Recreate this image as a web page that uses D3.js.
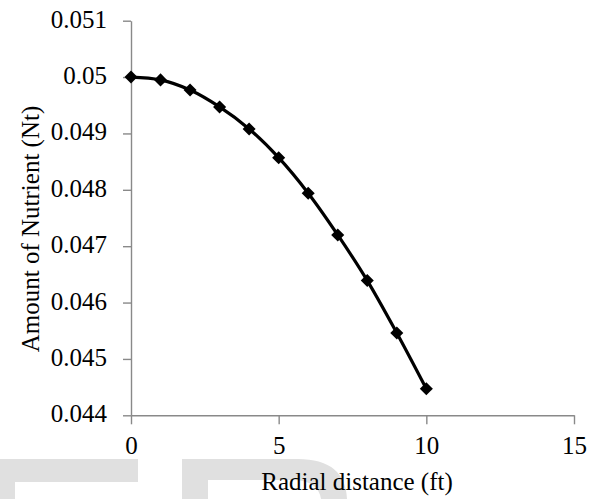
<html>
<head>
<title>Amount of Nutrient</title>
<script src="https://cdnjs.cloudflare.com/ajax/libs/d3/7.8.5/d3.min.js"></script>
<style>
  body { margin: 0; background: #fff; }
  svg text { font-family: "Liberation Serif", "Times New Roman", serif; fill: #000; }
</style>
</head>
<body>
<svg id="chart" width="595" height="499"></svg>
<script>
// data
var radial = [0, 1, 2, 3, 4, 5, 6, 7, 8, 9, 10];
var nutrient = [0.05, 0.04995, 0.04977, 0.04947, 0.04908, 0.04857, 0.04794, 0.04720, 0.04639, 0.04546, 0.04447];
var xTicks = [0, 5, 10, 15];
var yTicks = [0.044, 0.045, 0.046, 0.047, 0.048, 0.049, 0.05, 0.051];

var serif = "'Liberation Serif', 'Times New Roman', serif";
var svg = d3.select("#chart");

// faint watermark letters, cut off at the bottom edge
var wm = svg.append("g").attr("fill", "#e0e0e0");
wm.append("path").attr("d", "M0,459H138V482H15V499H0Z");
wm.append("path").attr("d", "M182,459H298Q345,459 347,499H321Q318,480 292,480H208V499H182Z");

var x = d3.scaleLinear().domain([0, 15]).range([131, 574]);
var y = d3.scaleLinear().domain([0.044, 0.051]).range([415.3, 20.7]);

var axisColor = "#898989";

var gx = svg.append("g")
  .attr("transform", "translate(0," + y(0.044) + ")")
  .call(d3.axisBottom(x).tickValues(xTicks).tickSize(9).tickPadding(12).tickSizeOuter(0));
gx.selectAll("text").attr("dy", "0.71em");

var gy = svg.append("g")
  .attr("transform", "translate(" + x(0) + ",0)")
  .call(d3.axisLeft(y).tickValues(yTicks).tickSize(8).tickPadding(16).tickSizeOuter(0)
    .tickFormat(function(d){ return String(+d.toFixed(3)); }));
gy.selectAll("text").attr("dy", "0.26em");

svg.selectAll("g").attr("font-family", null);
svg.selectAll(".domain, .tick line").attr("stroke", axisColor).attr("stroke-width", 1.4);
svg.selectAll(".tick text")
  .style("font-family", serif)
  .style("font-size", "25px")
  .style("fill", "#000");

// series
var pts = radial.map(function(d, i){ return [d, nutrient[i]]; });
var line = d3.line()
  .x(function(d){ return x(d[0]); })
  .y(function(d){ return y(d[1]); })
  .curve(d3.curveCatmullRom.alpha(0.5));

svg.append("path")
  .datum(pts)
  .attr("fill", "none")
  .attr("stroke", "#000")
  .attr("stroke-width", 3.2)
  .attr("d", line);

svg.selectAll(".marker")
  .data(pts)
  .enter().append("path")
  .attr("class", "marker")
  .attr("d", d3.symbol().type(d3.symbolSquare).size(85))
  .attr("transform", function(d){ return "translate(" + x(d[0]) + "," + y(d[1]) + ") rotate(45)"; })
  .attr("fill", "#000");

// axis titles
svg.append("text")
  .attr("x", 357)
  .attr("y", 490)
  .attr("text-anchor", "middle")
  .style("font-size", "25px")
  .text("Radial distance (ft)");

svg.append("text")
  .attr("transform", "translate(39,229) rotate(-90)")
  .attr("text-anchor", "middle")
  .style("font-size", "25px")
  .text("Amount of Nutrient (Nt)");
</script>
</body>
</html>
